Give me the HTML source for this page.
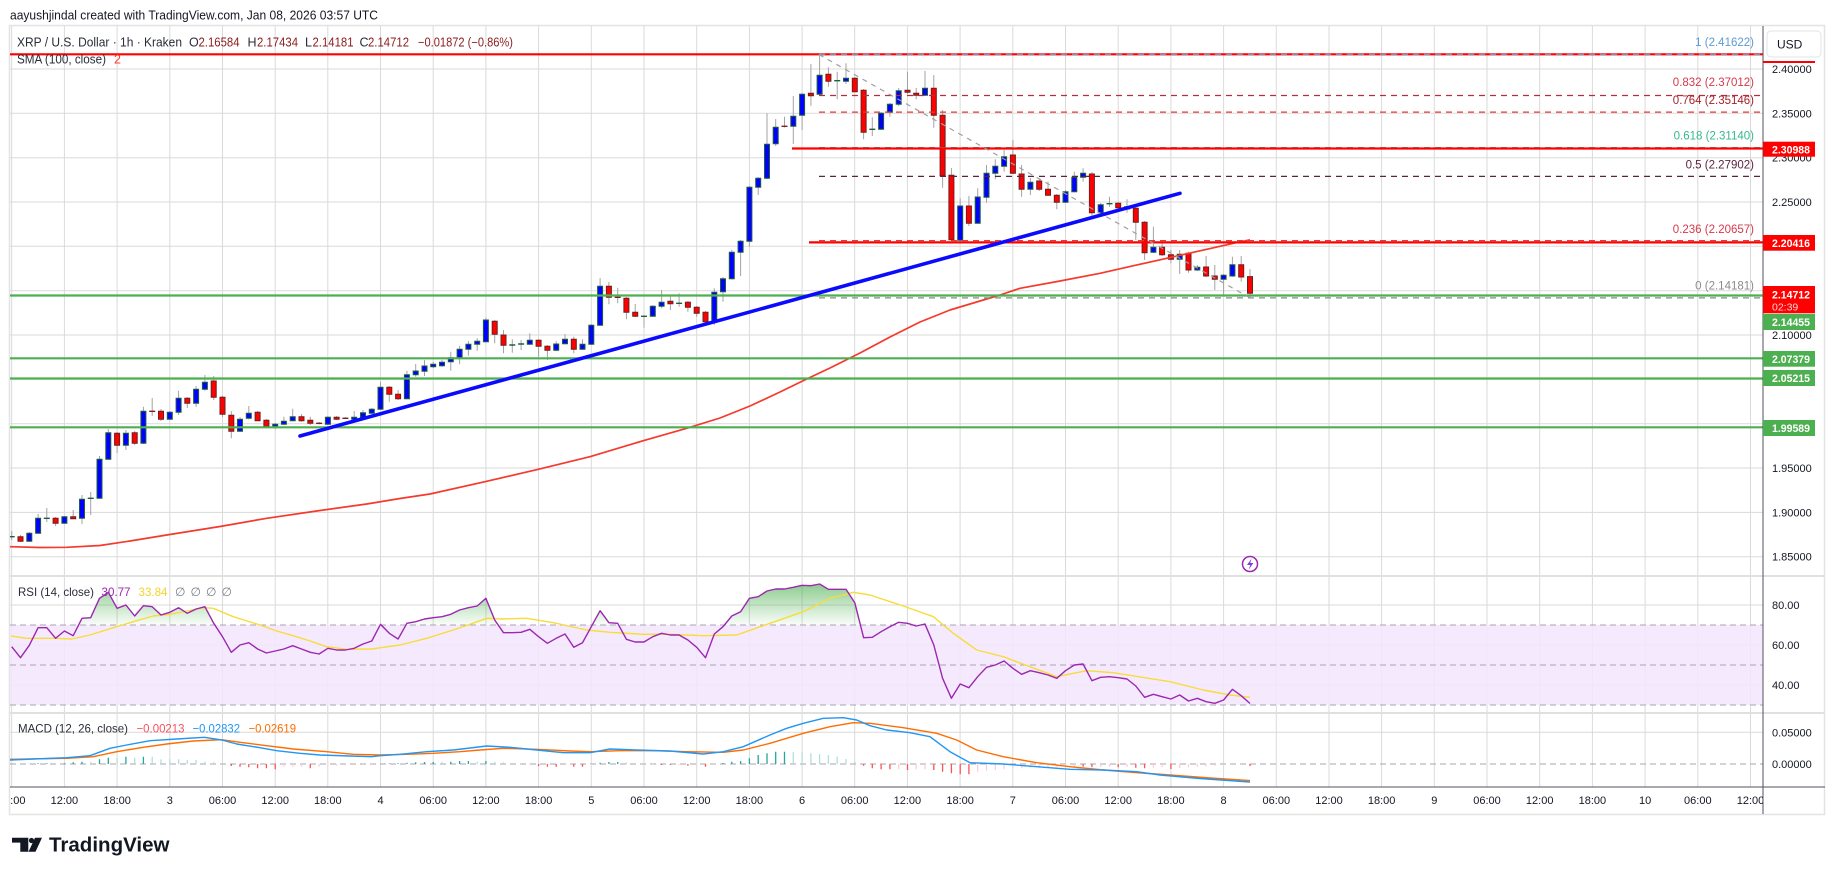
<!DOCTYPE html>
<html><head><meta charset="utf-8">
<style>
html,body{margin:0;padding:0;background:#fff;width:1835px;height:875px;overflow:hidden}
svg{display:block;font-family:"Liberation Sans","DejaVu Sans",sans-serif}
</style></head>
<body>
<svg width="1835" height="875" viewBox="0 0 1835 875" xmlns="http://www.w3.org/2000/svg">
<defs>
<clipPath id="cm"><rect x="10" y="26" width="1753" height="550"/></clipPath>
<clipPath id="cr"><rect x="10" y="576" width="1753" height="137"/></clipPath>
<clipPath id="crg"><rect x="10" y="576" width="1753" height="49"/></clipPath>
<clipPath id="cd"><rect x="10" y="713" width="1753" height="74"/></clipPath>
<clipPath id="ct"><rect x="10" y="787" width="1753" height="27"/></clipPath>
<linearGradient id="gg" gradientUnits="userSpaceOnUse" x1="0" y1="583" x2="0" y2="625">
<stop offset="0" stop-color="#4caf50" stop-opacity="0.65"/><stop offset="1" stop-color="#4caf50" stop-opacity="0.03"/></linearGradient>
</defs>
<rect x="0" y="0" width="1835" height="875" fill="#fff"/>
<rect x="9.5" y="25.5" width="1815" height="789" fill="#fff" stroke="#e3e3e3" stroke-width="1.5"/>

<!-- grid -->
<path d="M11.7 26V787M64.4 26V787M117.1 26V787M169.8 26V787M222.5 26V787M275.2 26V787M327.8 26V787M380.5 26V787M433.2 26V787M485.9 26V787M538.6 26V787M591.3 26V787M644 26V787M696.7 26V787M749.4 26V787M802.1 26V787M854.7 26V787M907.4 26V787M960.1 26V787M1012.8 26V787M1065.5 26V787M1118.2 26V787M1170.9 26V787M1223.6 26V787M1276.3 26V787M1329 26V787M1381.6 26V787M1434.3 26V787M1487 26V787M1539.7 26V787M1592.4 26V787M1645.1 26V787M1697.8 26V787M1750.5 26V787" stroke="#dadada" stroke-width="1" fill="none"/>
<path d="M10 69H1763M10 113.3H1763M10 157.7H1763M10 202H1763M10 246.3H1763M10 290.7H1763M10 335H1763M10 379.3H1763M10 423.7H1763M10 468H1763M10 512.4H1763M10 556.7H1763M10 605H1763M10 645H1763M10 685H1763M10 732.3H1763" stroke="#dadada" stroke-width="1" fill="none"/>

<!-- RSI band -->
<rect x="10" y="625" width="1753" height="80" fill="#f3e6fd" fill-opacity="0.85"/>
<path d="M10 625H1763M10 665H1763M10 705H1763M10 764H1763" stroke="#a9a3b3" stroke-width="1" stroke-dasharray="6 4" fill="none"/>

<!-- candles -->
<g clip-path="url(#cm)">
<path fill="none" stroke="#a3a3a3" stroke-width="1" d="M11.7 531V540M20.5 535V542M29.3 532V542M38.1 514V534M46.8 508V522M55.6 517V526M64.4 516V524M73.2 510V519M82 495V524M90.7 492V515M99.5 456V499M108.3 429V460M117.1 432V453M125.9 430V450M134.7 431V445M143.4 406.7V444M152.2 398V416M161 409V421M169.8 411V420M178.6 390.7V415M187.3 397V408M196.1 386V407M204.9 375V390.7M213.7 376V400M222.5 396V417.3M231.3 411V438.3M240 417.3V432M248.8 406V419.3M257.6 411V421M266.4 419V427M275.2 423V429.3M283.9 416.7V425M292.7 408.7V421M301.5 414V421.7M310.3 416.7V425M319.1 422V424.5M327.9 416V425M336.6 416V420M345.4 417V419M354.2 411V420M363 410V418M371.8 408V414M380.5 381.7V410M389.3 386V401.7M398.1 390V400M406.9 370.7V399M415.7 364V376.7M424.5 360V376M433.2 362V368M442 360V367M450.8 351.7V370.7M459.6 346V364.3M468.4 341V355.7M477.2 338.3V350.7M485.9 318V342.5M494.7 320V343.3M503.5 330V353.3M512.3 339.3V352.7M521.1 340V350M529.8 333.3V345M538.6 339V356.7M547.4 345V360M556.2 341.3V351M565 334V344.5M573.8 336.7V353.3M582.5 339.3V350M591.3 324V345M600.1 278V326M608.9 282V304.3M617.7 287.7V303.3M626.4 297V319.3M635.2 304V317M644 315V327.7M652.8 305.3V317M661.6 290V308.3M670.4 295V310M679.1 293.3V306.7M687.9 301V311.7M696.7 306V316.7M705.5 311V322.5M714.3 288.3V325M723 277V301.7M731.8 250V279.5M740.6 240V276M749.4 186V246.7M758.2 177V195M767 113.3V179M775.7 119V146M784.5 116.7V127.5M793.3 96V144M802.1 93V130M810.9 64V105.7M819.6 55V96M828.4 67.3V86.7M837.2 71.7V99.3M846 63.3V84M854.8 77V92.5M863.6 89V139.3M872.3 117.3V136M881.1 112V130M889.9 103V116.7M898.7 88V106M907.5 71.7V94M916.2 88V99.3M925 71V96M933.8 75V127.7M942.6 110V187.7M951.4 168V241M960.2 198.3V241M968.9 196V226M977.7 188.3V224M986.5 165V202.7M995.3 159.3V179.3M1004.1 150V171.7M1012.9 140V174M1021.6 165V196.7M1030.4 178V195M1039.2 179V191M1048 181.7V196M1056.8 194V209.3M1065.5 190V203M1074.3 171.7V192.5M1083.1 168.3V181.7M1091.9 172V216.7M1100.7 203V213.5M1109.5 196.7V206.7M1118.2 202V208.5M1127 199.3V212.7M1135.8 207V240M1144.6 221V260M1153.4 226.7V253M1162.1 240V256M1170.9 250V263.3M1179.7 250V274M1188.5 251.7V272.7M1197.3 265V271M1206.1 256V277M1214.8 265V290M1223.6 274V295M1232.4 256.7V277M1241.2 256V281.7M1250 269.1V297.9"/>
<path fill="#0000ff" stroke="#1f5f3f" stroke-width="1" d="M26.8 533.3h5v8h-5zM35.6 518.3h5v15h-5zM61.9 516.7h5v6.6h-5zM79.5 499.3h5v19h-5zM97 459.3h5v39h-5zM105.8 432.7h5v26.6h-5zM123.4 433.3h5v12h-5zM140.9 411.3h5v32h-5zM167.3 412.3h5v7h-5zM176.1 398.3h5v14h-5zM193.6 389.3h5v14h-5zM202.4 382.3h5v7h-5zM237.5 419.3h5v12h-5zM246.3 413.3h5v5h-5zM272.7 424.3h5v2h-5zM281.4 421.3h5v3h-5zM290.2 416.7h5v4h-5zM325.4 417.3h5v7h-5zM351.7 417.3h5v2h-5zM360.5 412.7h5v4.6h-5zM369.3 409.3h5v4h-5zM378 387.3h5v22h-5zM404.4 374.7h5v24h-5zM413.2 371h5v3.7h-5zM422 366h5v5.3h-5zM430.7 364.3h5v2.4h-5zM439.5 362.3h5v3.4h-5zM448.3 357.7h5v4h-5zM457.1 349.3h5v8.4h-5zM465.9 344.3h5v5h-5zM474.7 341.3h5v3h-5zM483.4 320h5v21.7h-5zM527.3 340.3h5v4h-5zM553.7 344h5v6.3h-5zM562.5 339.3h5v4.4h-5zM580 344.3h5v5h-5zM588.8 325.3h5v19h-5zM597.6 286.3h5v39h-5zM650.3 306.3h5v10h-5zM659.1 302.3h5v4h-5zM711.8 292.3h5v29.4h-5zM720.5 278.7h5v13h-5zM729.3 252.3h5v26.4h-5zM738.1 241.3h5v11h-5zM746.9 187.3h5v54h-5zM755.7 178.3h5v9h-5zM764.5 144.3h5v34h-5zM773.2 127.3h5v16.4h-5zM790.8 116.3h5v10h-5zM799.6 94.3h5v21h-5zM817.1 75.3h5v19h-5zM843.5 78.3h5v3h-5zM878.6 113.3h5v16h-5zM887.4 104.3h5v8h-5zM896.2 90.7h5v13.6h-5zM922.5 88.3h5v7h-5zM957.7 206h5v34.3h-5zM975.2 197h5v26.3h-5zM984 173.3h5v24h-5zM992.8 166.3h5v7h-5zM1001.6 156.7h5v9.6h-5zM1027.9 182.3h5v7h-5zM1063 191.7h5v10.6h-5zM1071.8 177.3h5v14.4h-5zM1080.6 173.3h5v4h-5zM1098.2 204.7h5v8h-5zM1150.9 247.3h5v5h-5zM1177.2 254.3h5v5h-5zM1194.8 267.3h5v2.7h-5zM1221.1 275.3h5v4h-5zM1229.9 264.7h5v11.3h-5z"/>
<path fill="#ff0000" stroke="#6d1f1f" stroke-width="1" d="M18 536.7h5v4.6h-5zM53.1 518.3h5v5h-5zM70.7 516.7h5v2h-5zM114.6 433.3h5v12h-5zM132.2 432.7h5v10.6h-5zM158.5 411.3h5v8h-5zM184.8 398.3h5v5h-5zM211.2 381h5v16.3h-5zM220 397.3h5v17h-5zM228.8 415.3h5v16h-5zM255.1 412.3h5v8.4h-5zM263.9 420.3h5v6h-5zM299 416.7h5v4h-5zM307.8 420.3h5v3h-5zM334.1 417.3h5v2h-5zM386.8 387.3h5v7h-5zM395.6 394.3h5v4.4h-5zM492.2 321.3h5v13h-5zM501 335h5v10.3h-5zM536.1 340.3h5v6h-5zM544.9 346.3h5v4h-5zM571.3 339.3h5v10h-5zM606.4 286.3h5v11h-5zM623.9 298.3h5v14h-5zM632.7 312.3h5v4h-5zM667.9 301.3h5v2.4h-5zM685.4 302.3h5v5h-5zM694.2 307.3h5v6h-5zM703 312.3h5v9.4h-5zM808.4 93.3h5v2.4h-5zM825.9 74.3h5v7h-5zM852.3 78.3h5v13.4h-5zM861.1 90.3h5v42h-5zM905 90.3h5v2h-5zM913.7 93.3h5v2h-5zM931.3 88.3h5v27h-5zM940.1 115.3h5v60.4h-5zM948.9 175.3h5v64.4h-5zM966.4 206h5v17.3h-5zM1010.4 155h5v18.3h-5zM1019.1 174h5v15.3h-5zM1036.7 181h5v8.3h-5zM1045.5 189.3h5v6h-5zM1054.3 195.3h5v7h-5zM1089.4 174h5v38.7h-5zM1115.7 203.3h5v4.4h-5zM1124.5 206.7h5v2.3h-5zM1133.3 208.3h5v14h-5zM1142.1 222.3h5v30.4h-5zM1159.6 247.3h5v7.4h-5zM1168.4 254.7h5v4.6h-5zM1186 253.3h5v16.7h-5zM1203.6 267h5v9h-5zM1212.3 276h5v3.3h-5zM1238.7 264.7h5v12.3h-5zM1247.5 276.6h5v16.6h-5z"/>
<path fill="none" stroke="#1f5f3f" stroke-width="1.4" d="M8.7 536.7h6M43.8 518.3h6M87.7 498.3h6M509.3 345h6M518.1 344h6M641 316.3h6M676.1 303.3h6M834.2 80.7h6M869.3 129.3h6M1106.5 203.7h6"/>
<path fill="none" stroke="#7b1f1f" stroke-width="1.4" d="M149.2 411.3h6M316.1 423.3h6M342.4 418.3h6M614.7 297.3h6M781.5 126.3h6"/>

<!-- SMA -->
<polyline fill="none" stroke="#f5392c" stroke-width="1.7" stroke-linejoin="round" points="10,546.7 40,547.5 66.7,547.3 100,545.5 130,541 166.7,535 220,526.5 266.7,518.3 320,510.5 366.7,504 400,498.5 430,494 485,481.7 538.3,469.3 590,456.7 643.3,440.7 686.7,428.3 720,418 750,406 780,392 806.7,379 830,368 860,353 890,337 920,322 950,310 983.3,300 1000,295 1020,288.3 1060,281 1100,273.3 1133,265.8 1166.7,258.3 1200,250.8 1233.3,243.3 1250,239.8"/>

<!-- drawings -->
<path fill="none" stroke="#b03040" stroke-width="1.2" stroke-dasharray="6 5" d="M819 95.5H1763"/>
<path fill="none" stroke="#e53935" stroke-width="1.2" stroke-dasharray="6 5" d="M819 112.1H1763"/>
<path fill="none" stroke="#33b98a" stroke-width="1.2" stroke-dasharray="6 5" d="M819 147.6H1763"/>
<path fill="none" stroke="#5a2440" stroke-width="1.2" stroke-dasharray="6 5" d="M819 176.4H1763"/>
<path fill="none" stroke="#8a8a8a" stroke-width="1.2" stroke-dasharray="6 5" d="M819 297.9H1763"/>
<path fill="none" stroke="#ff0000" stroke-width="2.2" d="M10 54.3H1763M792 148.5H1763M809 242.4H1763"/>
<path fill="none" stroke="#64a8e0" stroke-width="1.2" stroke-dasharray="6 5" d="M819 54.3H1763"/>
<path fill="none" stroke="#e53935" stroke-width="1.2" stroke-dasharray="6 5" d="M819 240.6H1763"/>
<path fill="none" stroke="#4caf50" stroke-width="2.2" d="M10 295.5H1763M10 358.3H1763M10 378.5H1763M10 427.3H1763"/>
<line x1="819" y1="54.5" x2="1250" y2="297.9" stroke="#a0a0a0" stroke-width="1.2" stroke-dasharray="5 5"/>
<line x1="300" y1="436" x2="1180" y2="193.3" stroke="#0a0aff" stroke-width="3.6" stroke-linecap="round"/>
</g>

<!-- RSI -->
<g clip-path="url(#cr)">
<polygon clip-path="url(#crg)" fill="url(#gg)" points="11.7,646.7 20.5,657.7 29.3,645.3 38.1,627.7 46.8,627.7 55.6,638.3 64.4,631 73.2,635.7 82,618.3 90.7,617.7 99.5,598.3 108.3,592.3 117.1,608.3 125.9,605 134.7,616 143.4,605.7 152.2,606.7 161,615 169.8,612.3 178.6,607.7 187.3,613.3 196.1,609 204.9,606.7 213.7,623.3 222.5,636.7 231.3,652.3 240,645 248.8,642.7 257.6,649 266.4,653 275.2,651 283.9,649 292.7,645.7 301.5,649 310.3,652.3 319.1,654 327.9,648.3 336.6,650 345.4,650 354.2,648.3 363,644 371.8,641 380.5,624.3 389.3,633.3 398.1,639 406.9,623.3 415.7,621.7 424.5,619 433.2,617.7 442,616.7 450.8,614.3 459.6,610 468.4,607.7 477.2,606 485.9,598.3 494.7,620 503.5,632.7 512.3,632.7 521.1,632.3 529.8,629.3 538.6,636.7 547.4,643.3 556.2,638.3 565,634 573.8,647.3 582.5,642.7 591.3,626.7 600.1,610.7 608.9,622.7 617.7,623.3 626.4,639.3 635.2,642 644,642 652.8,636.7 661.6,633.3 670.4,635 679.1,635 687.9,640 696.7,647.3 705.5,657.7 714.3,634 723,626.7 731.8,616 740.6,611.7 749.4,598.3 758.2,596.7 767,591 775.7,589 784.5,589 793.3,587.3 802.1,585.3 810.9,585.7 819.6,584 828.4,589.3 837.2,589.3 846,589.3 854.8,602.7 863.6,637.7 872.3,637.3 881.1,631.7 889.9,626.7 898.7,622.3 907.5,623.3 916.2,626 925,624 933.8,645 942.6,678.3 951.4,698.3 960.2,684 968.9,687.7 977.7,676.7 986.5,667.3 995.3,665 1004.1,661 1012.9,668.3 1021.6,674.3 1030.4,670.7 1039.2,672.7 1048,675 1056.8,678.3 1065.5,670.7 1074.3,665 1083.1,664 1091.9,680.7 1100.7,677.3 1109.5,676.7 1118.2,677.7 1127,679 1135.8,686 1144.6,697.3 1153.4,694.3 1162.1,696.7 1170.9,699 1179.7,695 1188.5,701 1197.3,698.3 1206.1,701.7 1214.8,703.3 1223.6,700 1232.4,689.3 1241.2,695.7 1250,703.5 1250,625 11.7,625"/>
<polyline fill="none" stroke="#f7dc3a" stroke-width="1.4" stroke-linejoin="round" points="11,636 26.7,638.3 55,638.3 71.7,639 90,635 116.7,626.7 133.3,621.7 153.3,616 170,614.3 186.7,611 204.3,607.7 213.3,608.3 233.3,616.7 260,625 276.7,631 293.3,635.7 310,641 326.7,646.7 346.7,649.3 371.7,649 400,645 426.7,638.3 453.3,630 470,624.3 486.7,618.3 503.3,619 526.7,618.3 553.3,622.7 586.7,630 610,632.3 643.3,634.3 670,634.3 703.3,635.7 736.7,635 770,623.3 803.3,611.7 830,598.3 853.3,592.3 870,595 903.3,606 933.3,616.7 953.3,633.3 976.7,650 1003.3,656.7 1030,666.7 1056.7,676.7 1086.7,670.7 1113.3,672.7 1170,681.7 1203.3,690 1230,695 1250,697.3"/>
<polyline fill="none" stroke="#9c27b0" stroke-width="1.4" stroke-linejoin="round" points="11.7,646.7 20.5,657.7 29.3,645.3 38.1,627.7 46.8,627.7 55.6,638.3 64.4,631 73.2,635.7 82,618.3 90.7,617.7 99.5,598.3 108.3,592.3 117.1,608.3 125.9,605 134.7,616 143.4,605.7 152.2,606.7 161,615 169.8,612.3 178.6,607.7 187.3,613.3 196.1,609 204.9,606.7 213.7,623.3 222.5,636.7 231.3,652.3 240,645 248.8,642.7 257.6,649 266.4,653 275.2,651 283.9,649 292.7,645.7 301.5,649 310.3,652.3 319.1,654 327.9,648.3 336.6,650 345.4,650 354.2,648.3 363,644 371.8,641 380.5,624.3 389.3,633.3 398.1,639 406.9,623.3 415.7,621.7 424.5,619 433.2,617.7 442,616.7 450.8,614.3 459.6,610 468.4,607.7 477.2,606 485.9,598.3 494.7,620 503.5,632.7 512.3,632.7 521.1,632.3 529.8,629.3 538.6,636.7 547.4,643.3 556.2,638.3 565,634 573.8,647.3 582.5,642.7 591.3,626.7 600.1,610.7 608.9,622.7 617.7,623.3 626.4,639.3 635.2,642 644,642 652.8,636.7 661.6,633.3 670.4,635 679.1,635 687.9,640 696.7,647.3 705.5,657.7 714.3,634 723,626.7 731.8,616 740.6,611.7 749.4,598.3 758.2,596.7 767,591 775.7,589 784.5,589 793.3,587.3 802.1,585.3 810.9,585.7 819.6,584 828.4,589.3 837.2,589.3 846,589.3 854.8,602.7 863.6,637.7 872.3,637.3 881.1,631.7 889.9,626.7 898.7,622.3 907.5,623.3 916.2,626 925,624 933.8,645 942.6,678.3 951.4,698.3 960.2,684 968.9,687.7 977.7,676.7 986.5,667.3 995.3,665 1004.1,661 1012.9,668.3 1021.6,674.3 1030.4,670.7 1039.2,672.7 1048,675 1056.8,678.3 1065.5,670.7 1074.3,665 1083.1,664 1091.9,680.7 1100.7,677.3 1109.5,676.7 1118.2,677.7 1127,679 1135.8,686 1144.6,697.3 1153.4,694.3 1162.1,696.7 1170.9,699 1179.7,695 1188.5,701 1197.3,698.3 1206.1,701.7 1214.8,703.3 1223.6,700 1232.4,689.3 1241.2,695.7 1250,703.5"/>
</g>

<!-- MACD -->
<g clip-path="url(#cd)">
<path fill="none" stroke="#26a69a" stroke-width="1.3" d="M38.1 764V763.3M46.8 764V763.3M64.4 764V763.3M73.2 764V762.3M82 764V761.7M99.5 764V759.3M108.3 764V757.7M125.9 764V756.7M143.4 764V756.7M389.3 764V763.5M398.1 764V763.3M406.9 764V762.7M415.7 764V762.3M424.5 764V762M433.2 764V762M450.8 764V761.7M459.6 764V761M468.4 764V761M485.9 764V761M600.1 764V762.7M608.9 764V762M617.7 764V762M723 764V763M731.8 764V761.7M740.6 764V761M749.4 764V758.3M758.2 764V755M767 764V753.3M775.7 764V751.7M784.5 764V751.7"/>
<path fill="none" stroke="#b2dfdb" stroke-width="1.3" d="M29.3 764V763.4M55.6 764V763.3M90.7 764V761.7M117.1 764V757.7M134.7 764V757.7M152.2 764V756.7M161 764V759.3M169.8 764V759.3M178.6 764V759.3M187.3 764V760M196.1 764V760M204.9 764V761.7M213.7 764V762.3M222.5 764V763.3M442 764V762M477.2 764V761.7M494.7 764V761.7M503.5 764V762.3M512.3 764V763M521.1 764V763.4M626.4 764V762.5M635.2 764V763M644 764V763.4M793.3 764V752.3M802.1 764V752.3M810.9 764V753.3M819.6 764V754M828.4 764V755M837.2 764V756.7M846 764V759M854.8 764V761.7"/>
<path fill="none" stroke="#ff5252" stroke-width="1.3" d="M231.3 764V766M240 764V766.7M248.8 764V767.3M257.6 764V768.3M266.4 764V768.3M275.2 764V769.3M310.3 764V768.3M538.6 764V766M547.4 764V766.7M556.2 764V766.7M573.8 764V766.7M582.5 764V766.7M661.6 764V765M670.4 764V765M687.9 764V765.7M705.5 764V766.7M863.6 764V765.7M872.3 764V768.3M881.1 764V769.3M889.9 764V769.3M907.5 764V770M933.8 764V770M942.6 764V771.7M951.4 764V773.3M960.2 764V774.3M968.9 764V774.3M1083.1 764V766.7M1091.9 764V767.3M1118.2 764V767.3M1135.8 764V767.7M1144.6 764V768.3M1170.9 764V769M1250 764V766"/>
<path fill="none" stroke="#ffcdd2" stroke-width="1.3" d="M283.9 764V766.7M292.7 764V766.7M301.5 764V766.7M319.1 764V766.7M327.9 764V766M336.6 764V765.7M345.4 764V765.5M354.2 764V765.3M363 764V765M371.8 764V764.8M529.8 764V764.8M565 764V765.3M591.3 764V764.6M652.8 764V764.6M679.1 764V765M696.7 764V765.5M714.3 764V764.7M898.7 764V769.3M916.2 764V769.3M925 764V769.3M977.7 764V771.7M986.5 764V770.7M995.3 764V770M1004.1 764V769.3M1012.9 764V768.7M1021.6 764V768.3M1030.4 764V767.7M1039.2 764V767.7M1048 764V767.3M1056.8 764V767M1065.5 764V766.7M1074.3 764V766.3M1100.7 764V767M1109.5 764V766.7M1127 764V767M1153.4 764V767.7M1162.1 764V767.3M1179.7 764V768M1188.5 764V767.3M1197.3 764V766.7M1206.1 764V766.3M1214.8 764V766M1223.6 764V765.7M1232.4 764V765.3M1241.2 764V765"/>
<polyline fill="none" stroke="#ff6d00" stroke-width="1.4" stroke-linejoin="round" points="10,759.3 66.7,758.3 93.3,756.7 116.7,751.7 143.3,747.3 166.7,744 193.3,741 221.7,739.7 240,742.3 266.7,745.7 293.3,749 326.7,751.7 353.3,754.3 380,755 406.7,754.3 433.3,753.3 460,751.7 480,750 503.3,748.3 536.7,749.3 570,751 590,751.7 620,750.7 653.3,750.7 686.7,751.7 723.3,752.3 743.3,750 770,743.3 803.3,733.3 830,726.7 853.3,722.7 870,723.3 903.3,727.7 936.7,733.3 956.7,740 976.7,750 1003.3,756.7 1036.7,762.7 1070,766.7 1103.3,770 1136.7,772.7 1170,775 1210,778 1250,780.6"/>
<polyline fill="none" stroke="#2196f3" stroke-width="1.4" stroke-linejoin="round" points="10,760 33.3,759 66.7,757.7 90,755.7 110,748.3 126.7,745 150,740.7 176.7,739 204.3,737.3 221.7,740 236.7,744 260,747.7 276.7,750.7 300,753.3 320,755 350,756 371.7,756.7 380,755.7 400,754.3 426.7,751.7 453.3,750 486.7,746 510,747.3 536.7,750 563.3,752.7 590,752.7 610,749 636.7,750 670,751 703.3,754 723.3,751.7 743.3,746.7 770,735 786.7,728.3 803.3,723.3 823.3,718.3 843.3,717.7 856.7,720 870,725.7 886.7,730 910,732.7 930,736.7 950,751.7 970,762.7 1003.3,764 1036.7,766.7 1070,769.3 1103.3,770 1136.7,771.7 1160,775 1200,778.5 1250,782"/>
</g>

<!-- axes & separators -->
<path d="M10 576H1825M10 713H1825" stroke="#e0e0e0" stroke-width="2" fill="none"/>
<path d="M1763 26V814M10 787H1825" stroke="#50535e" stroke-width="1" fill="none"/>

<!-- header -->
<text x="10" y="19.5" font-size="12.5" fill="#131722" textLength="368" lengthAdjust="spacingAndGlyphs">aayushjindal created with TradingView.com, Jan 08, 2026 03:57 UTC</text>
<g font-size="12.5">
<text x="17" y="46.5" fill="#2a2e39" textLength="165" lengthAdjust="spacingAndGlyphs">XRP / U.S. Dollar · 1h · Kraken</text>
<text x="189" y="46.5" fill="#2a2e39">O</text><text x="198.5" y="46.5" fill="#8b1d1d" textLength="41" lengthAdjust="spacingAndGlyphs">2.16584</text>
<text x="247.5" y="46.5" fill="#2a2e39">H</text><text x="257" y="46.5" fill="#8b1d1d" textLength="41" lengthAdjust="spacingAndGlyphs">2.17434</text>
<text x="305" y="46.5" fill="#2a2e39">L</text><text x="312.5" y="46.5" fill="#8b1d1d" textLength="41" lengthAdjust="spacingAndGlyphs">2.14181</text>
<text x="359.5" y="46.5" fill="#2a2e39">C</text><text x="368" y="46.5" fill="#8b1d1d" textLength="41" lengthAdjust="spacingAndGlyphs">2.14712</text>
<text x="418" y="46.5" fill="#8b1d1d" textLength="95" lengthAdjust="spacingAndGlyphs">−0.01872 (−0.86%)</text>
<text x="17" y="63.5" fill="#2a2e39" textLength="89" lengthAdjust="spacingAndGlyphs">SMA (100, close)</text>
<text x="114" y="63.5" fill="#ff3b30">2</text>
</g>

<!-- fib labels -->
<g font-size="11.5" text-anchor="end">
<text x="1754" y="46" fill="#5b9bd5">1 (2.41622)</text>
<text x="1754" y="86" fill="#d6394a">0.832 (2.37012)</text>
<text x="1754" y="104" fill="#a8202c">0.764 (2.35146)</text>
<text x="1754" y="139.5" fill="#33b98a">0.618 (2.31140)</text>
<text x="1754" y="168.5" fill="#5a2440">0.5 (2.27902)</text>
<text x="1754" y="233" fill="#d6394a">0.236 (2.20657)</text>
<text x="1754" y="289.5" fill="#8a8a8a">0 (2.14181)</text>
</g>

<!-- price axis labels -->
<g font-size="11" fill="#131722">
<text x="1772" y="73">2.40000</text>
<text x="1772" y="117.3">2.35000</text>
<text x="1772" y="161.7">2.30000</text>
<text x="1772" y="206">2.25000</text>
<text x="1772" y="339">2.10000</text>
<text x="1772" y="472">1.95000</text>
<text x="1772" y="516.4">1.90000</text>
<text x="1772" y="560.7">1.85000</text>
<text x="1772" y="609">80.00</text>
<text x="1772" y="649">60.00</text>
<text x="1772" y="689">40.00</text>
<text x="1772" y="736.3">0.05000</text>
<text x="1772" y="768">0.00000</text>
</g>
<rect x="1763" y="61" width="52" height="2" fill="#ff0000"/>
<rect x="1763" y="141.7" width="52" height="15" fill="#ff0000"/>
<rect x="1763" y="235" width="52" height="15.7" fill="#ff0000"/>
<rect x="1763" y="286" width="52" height="27.3" fill="#ff0000"/>
<rect x="1763" y="314" width="52" height="16" fill="#4caf50"/>
<rect x="1763" y="351" width="52" height="15.7" fill="#4caf50"/>
<rect x="1763" y="370" width="52" height="16" fill="#4caf50"/>
<rect x="1763" y="420" width="52" height="16" fill="#4caf50"/>
<g font-size="11" fill="#fff" font-weight="bold">
<text x="1772" y="153.3" textLength="38" lengthAdjust="spacingAndGlyphs">2.30988</text>
<text x="1772" y="247" textLength="38" lengthAdjust="spacingAndGlyphs">2.20416</text>
<text x="1772" y="298.5" textLength="38" lengthAdjust="spacingAndGlyphs">2.14712</text>
<text x="1772" y="326" textLength="38" lengthAdjust="spacingAndGlyphs">2.14455</text>
<text x="1772" y="362.8" textLength="38" lengthAdjust="spacingAndGlyphs">2.07379</text>
<text x="1772" y="382" textLength="38" lengthAdjust="spacingAndGlyphs">2.05215</text>
<text x="1772" y="432" textLength="38" lengthAdjust="spacingAndGlyphs">1.99589</text>
</g>
<text x="1772" y="310.5" font-size="10.5" fill="#ffd6d6">02:39</text>
<rect x="1767" y="31" width="54" height="26" rx="4" fill="#fff" stroke="#e0e3eb"/>
<text x="1777" y="48.5" font-size="12" fill="#131722">USD</text>

<!-- indicator legends -->
<g font-size="12">
<text x="18" y="596" fill="#2a2e39" textLength="76" lengthAdjust="spacingAndGlyphs">RSI (14, close)</text>
<text x="101.5" y="596" fill="#9c27b0" textLength="29" lengthAdjust="spacingAndGlyphs">30.77</text>
<text x="138.5" y="596" fill="#f2d62a" textLength="29" lengthAdjust="spacingAndGlyphs">33.84</text>
<text x="175" y="596" fill="#787b86">∅</text>
<text x="190.5" y="596" fill="#787b86">∅</text>
<text x="206" y="596" fill="#787b86">∅</text>
<text x="221.5" y="596" fill="#787b86">∅</text>
<text x="18" y="732.5" fill="#2a2e39" textLength="110" lengthAdjust="spacingAndGlyphs">MACD (12, 26, close)</text>
<text x="136.5" y="732.5" fill="#f7525f" textLength="48" lengthAdjust="spacingAndGlyphs">−0.00213</text>
<text x="192.5" y="732.5" fill="#2196f3" textLength="47.5" lengthAdjust="spacingAndGlyphs">−0.02832</text>
<text x="248.5" y="732.5" fill="#ff6d00" textLength="47.5" lengthAdjust="spacingAndGlyphs">−0.02619</text>
</g>

<!-- time labels -->
<g clip-path="url(#ct)" font-size="11" fill="#131722" text-anchor="middle">
<text x="11.7" y="804">06:00</text><text x="64.4" y="804">12:00</text><text x="117.1" y="804">18:00</text><text x="169.8" y="804">3</text>
<text x="222.5" y="804">06:00</text><text x="275.2" y="804">12:00</text><text x="327.8" y="804">18:00</text><text x="380.5" y="804">4</text>
<text x="433.2" y="804">06:00</text><text x="485.9" y="804">12:00</text><text x="538.6" y="804">18:00</text><text x="591.3" y="804">5</text>
<text x="644" y="804">06:00</text><text x="696.7" y="804">12:00</text><text x="749.4" y="804">18:00</text><text x="802.1" y="804">6</text>
<text x="854.7" y="804">06:00</text><text x="907.4" y="804">12:00</text><text x="960.1" y="804">18:00</text><text x="1012.8" y="804">7</text>
<text x="1065.5" y="804">06:00</text><text x="1118.2" y="804">12:00</text><text x="1170.9" y="804">18:00</text><text x="1223.6" y="804">8</text>
<text x="1276.3" y="804">06:00</text><text x="1329" y="804">12:00</text><text x="1381.6" y="804">18:00</text><text x="1434.3" y="804">9</text>
<text x="1487" y="804">06:00</text><text x="1539.7" y="804">12:00</text><text x="1592.4" y="804">18:00</text><text x="1645.1" y="804">10</text>
<text x="1697.8" y="804">06:00</text><text x="1750.5" y="804">12:00</text>
</g>

<!-- lightning icon -->
<circle cx="1250" cy="564" r="7.5" fill="#fff" stroke="#9c27b0" stroke-width="1.5"/>
<path d="M1251.6 558.5 L1247 565 H1250.3 L1248.6 569.8 L1253.4 563 H1250.2 Z" fill="#7b3fd0"/>

<!-- TradingView logo -->
<path d="M12 837.7 H28.3 V851.7 H20.3 V842.6 H12 Z" fill="#131722"/>
<circle cx="31.5" cy="840.5" r="2.6" fill="#131722"/>
<path d="M35 837.7 H42 L35.5 851.7 H28.5 Z" fill="#131722"/>
<text x="49" y="851.7" font-size="20" font-weight="bold" fill="#131722" textLength="120.5" lengthAdjust="spacingAndGlyphs">TradingView</text>
</svg>
</body></html>
